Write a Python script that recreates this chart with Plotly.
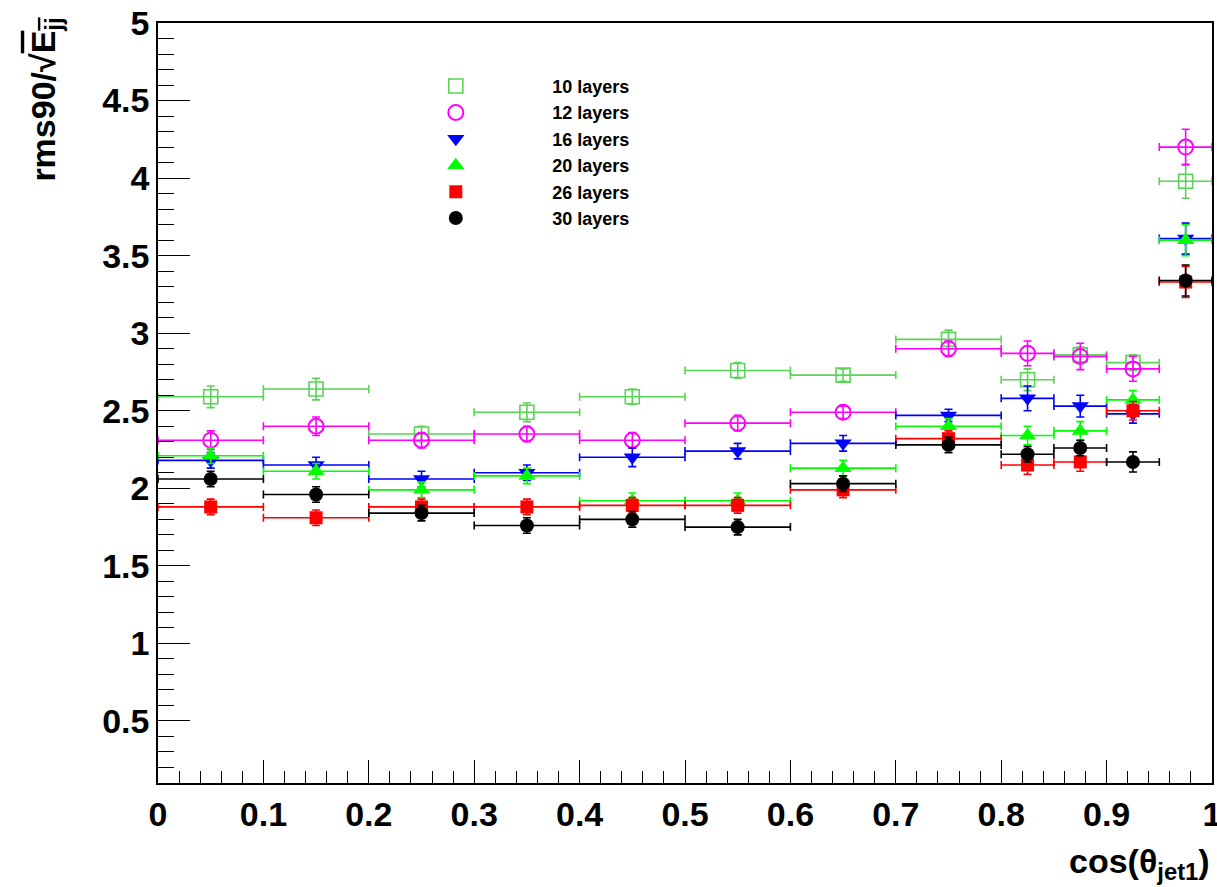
import plotly.graph_objects as go

# Bin centres and half-widths in cos(theta_jet1)
x_centres = [0.05, 0.15, 0.25, 0.35, 0.45, 0.55, 0.65, 0.75, 0.825, 0.875, 0.925, 0.975]
x_halfwidth = [0.05, 0.05, 0.05, 0.05, 0.05, 0.05, 0.05, 0.05, 0.025, 0.025, 0.025, 0.025]

# rms90 / sqrt(Ejj) per configuration
rms_10 = [2.59, 2.64, 2.35, 2.49, 2.59, 2.76, 2.73, 2.96, 2.70, 2.86, 2.81, 3.98]
rms_12 = [2.31, 2.40, 2.31, 2.35, 2.31, 2.42, 2.49, 2.90, 2.87, 2.85, 2.77, 4.20]
rms_16 = [2.18, 2.15, 2.06, 2.10, 2.20, 2.24, 2.29, 2.47, 2.58, 2.53, 2.48, 3.61]
rms_20 = [2.21, 2.11, 1.99, 2.08, 1.92, 1.92, 2.13, 2.40, 2.34, 2.37, 2.57, 3.60]
rms_26 = [1.88, 1.81, 1.88, 1.88, 1.89, 1.89, 1.99, 2.32, 2.15, 2.17, 2.50, 3.33]
rms_30 = [2.06, 1.96, 1.84, 1.76, 1.80, 1.75, 2.03, 2.28, 2.22, 2.26, 2.17, 3.34]

# Statistical uncertainties
err_10 = [0.07, 0.07, 0.05, 0.06, 0.05, 0.05, 0.04, 0.06, 0.07, 0.05, 0.05, 0.11]
err_12 = [0.06, 0.06, 0.05, 0.05, 0.05, 0.05, 0.04, 0.05, 0.08, 0.085, 0.08, 0.115]
err_16 = [0.05, 0.05, 0.05, 0.05, 0.06, 0.05, 0.05, 0.04, 0.08, 0.07, 0.06, 0.10]
err_20 = [0.05, 0.05, 0.05, 0.05, 0.05, 0.05, 0.05, 0.05, 0.06, 0.06, 0.06, 0.10]
err_26 = [0.05, 0.05, 0.05, 0.05, 0.05, 0.05, 0.05, 0.05, 0.06, 0.06, 0.06, 0.10]
err_30 = [0.05, 0.05, 0.05, 0.05, 0.05, 0.05, 0.05, 0.05, 0.05, 0.05, 0.065, 0.10]

series = [
    ("10 layers", rms_10, err_10, "rgb(89,212,84)", "square-open", 14, 1.6),
    ("12 layers", rms_12, err_12, "rgb(255,0,255)", "circle-open", 15, 2.0),
    ("16 layers", rms_16, err_16, "rgb(0,0,255)", "triangle-down", 15, 0),
    ("20 layers", rms_20, err_20, "rgb(0,255,0)", "triangle-up", 15, 0),
    ("26 layers", rms_26, err_26, "rgb(255,0,0)", "square", 13, 0),
    ("30 layers", rms_30, err_30, "rgb(0,0,0)", "circle", 14, 0),
]

FONT = "Liberation Sans, Arial, Helvetica, sans-serif"

fig = go.Figure()
for name, vals, errs, col, sym, size, lw in series:
    fig.add_trace(go.Scatter(
        x=x_centres, y=vals, name=name, mode="markers",
        marker=dict(symbol=sym, size=size, color=col,
                    line=dict(color=col, width=lw)),
        error_x=dict(type="data", array=x_halfwidth, visible=True,
                     color=col, thickness=1.6, width=4),
        error_y=dict(type="data", array=errs, visible=True,
                     color=col, thickness=1.6, width=4),
    ))

fig.update_layout(
    width=1217, height=887,
    margin=dict(l=158, r=5, t=23, b=104),
    paper_bgcolor="white", plot_bgcolor="white",
    font=dict(family=FONT, color="black"),
    showlegend=True,
    legend=dict(
        x=0.191, y=0.941, xanchor="left", yanchor="top",
        bgcolor="rgba(0,0,0,0)", borderwidth=0,
        itemwidth=183,
        font=dict(family=FONT, size=18, weight="bold", color="black"),
    ),
    xaxis=dict(
        range=[0, 1], tick0=0, dtick=0.1,
        showgrid=False, zeroline=False,
        showline=True, linecolor="black", linewidth=1.5, mirror=True,
        ticks="inside", ticklen=23, tickwidth=1, tickcolor="black",
        minor=dict(dtick=0.02, ticks="inside", ticklen=12, tickcolor="black", tickwidth=1),
        tickfont=dict(family=FONT, size=34, weight="bold"),
        tickangle=0, automargin=False, ticklabeloverflow="allow",
    ),
    yaxis=dict(
        range=[0.1, 5], tick0=0, dtick=0.5,
        showgrid=False, zeroline=False,
        showline=True, linecolor="black", linewidth=1.5, mirror=True,
        ticks="inside", ticklen=32, tickwidth=1, tickcolor="black",
        minor=dict(dtick=0.1, ticks="inside", ticklen=16, tickcolor="black", tickwidth=1),
        tickfont=dict(family=FONT, size=34, weight="bold"),
        automargin=False, ticklabeloverflow="allow",
    ),
)

fig.add_annotation(
    text="cos(θ<sub>jet1</sub>)", xref="paper", yref="paper",
    x=1.0, y=-0.075, xanchor="right", yanchor="top", showarrow=False,
    font=dict(family=FONT, size=34, weight="bold", color="black"),
)
fig.add_annotation(
    text="rms90/√<span style='text-decoration:overline'>E<sub>jj</sub></span>",
    xref="paper", yref="paper", textangle=-90,
    x=-0.107, y=1.01, xanchor="center", yanchor="top", showarrow=False,
    font=dict(family=FONT, size=34, weight="bold", color="black"),
)

fig.write_html("out.html")
